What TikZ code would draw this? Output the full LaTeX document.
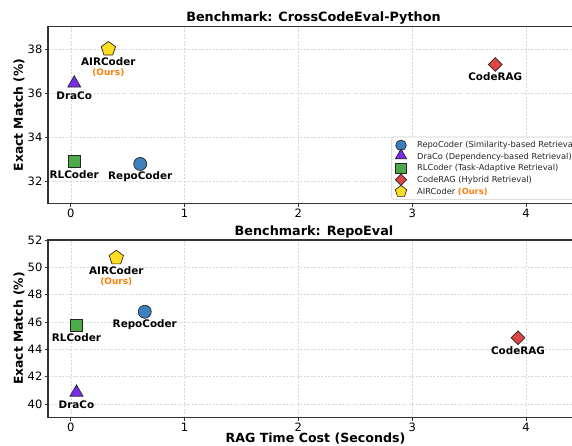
\documentclass[tikz,border=0pt]{standalone}
\usepackage{fontspec}
\setmainfont{DejaVu Sans}
\usetikzlibrary{shapes.geometric}
\definecolor{cRepo}{HTML}{3C80BF}
\definecolor{cDraco}{HTML}{7B2BEE}
\definecolor{cRL}{HTML}{4CAA48}
\definecolor{cRAG}{HTML}{DD4444}
\definecolor{cAIR}{HTML}{FFDD22}
\definecolor{cOurs}{HTML}{FF7F0E}
\definecolor{cFrame}{HTML}{333333}
\definecolor{cGrid}{HTML}{D8D8D8}
\tikzset{
  frame/.style={draw=cFrame,line width=1.1pt},
  gridline/.style={draw=cGrid,dashed,line width=0.5pt,dash pattern=on 2pt off 1.5pt},
  tickmark/.style={draw=cFrame,line width=0.7pt},
  ticklab/.style={font=\fontsize{11.5}{12}\selectfont,inner sep=0pt},
  axlab/.style={font=\fontsize{12.3}{13}\selectfont\bfseries,inner sep=0pt},
  titlelab/.style={font=\fontsize{12.8}{13}\selectfont\bfseries,inner sep=0pt},
  ptlab/.style={font=\fontsize{10.4}{11}\selectfont\bfseries,inner sep=0pt},
  ourslab/.style={font=\fontsize{9}{10}\selectfont\bfseries,text=cOurs,inner sep=0pt},
  mk/.style={draw=black!85,line width=0.7pt,inner sep=0pt},
  mrepo/.style={mk,circle,fill=cRepo,minimum size=13pt},
  mdraco/.style={mk,regular polygon,regular polygon sides=3,fill=cDraco,minimum size=15pt},
  mrl/.style={mk,rectangle,fill=cRL,minimum size=12pt},
  mrag/.style={mk,diamond,fill=cRAG,minimum size=14pt},
  mair/.style={mk,regular polygon,regular polygon sides=5,fill=cAIR,minimum size=15pt},
  legtext/.style={font=\fontsize{8.3}{9}\selectfont,text=black!85,inner sep=0pt,anchor=west},
}
\begin{document}
\begin{tikzpicture}[x=1pt,y=1pt]
\useasboundingbox (0,0) rectangle (572,445);
\fill[white] (0,0) rectangle (572,445);

% ---------------- top panel ----------------
\begin{scope}[x=113.8pt,y=22.1pt,shift={(70.8pt,-443.8pt)}]
  \foreach \xx in {0,1,2,3,4} \draw[gridline] (\xx,31) -- (\xx,39);
  \foreach \yy in {32,34,36,38} \draw[gridline] (-0.2,\yy) -- (4.5,\yy);
  \foreach \xx in {0,1,2,3,4} {
    \draw[tickmark] (\xx,31) -- ++(0,-3.5pt);
    \node[ticklab,anchor=north] (tx\xx) at ([yshift=-5pt]\xx,31) {\xx};
  }
  \foreach \yy in {32,34,36,38} {
    \draw[tickmark] (-0.2,\yy) -- ++(-3.5pt,0);
    \node[ticklab,anchor=east] (ty\yy) at ([xshift=-5.5pt]-0.2,\yy) {\yy};
  }
  \draw[frame] (-0.2,31) rectangle (4.5,39);
  % points
  \node[mrepo] (repoA) at (0.61,32.8) {};
  \node[mdraco] (dracoA) at (0.03,36.45) {};
  \node[mrl] (rlA) at (0.03,32.9) {};
  \node[mrag] (ragA) at (3.73,37.3) {};
  \node[mair] (airA) at (0.33,38.0) {};
  \node[ptlab] (repoAl) at ([yshift=-12.5pt]repoA.center) {RepoCoder};
  \node[ptlab] (dracoAl) at ([yshift=-12pt]dracoA.center) {DraCo};
  \node[ptlab] (rlAl) at ([yshift=-12.5pt]rlA.center) {RLCoder};
  \node[ptlab] (ragAl) at ([yshift=-12.5pt]ragA.center) {CodeRAG};
  \node[ptlab] (airAl) at ([yshift=-13pt]airA.center) {AIRCoder};
  \node[ourslab] (airAo) at ([yshift=-23.7pt]airA.center) {(Ours)};
\end{scope}
\node[titlelab] (titleA) at (313.5,427) {Benchmark: CrossCodeEval-Python};
\node[axlab,rotate=90] (ylabA) at (19,330) {Exact Match (\%)};

% legend
\draw[draw=black!20,fill=white,rounded corners=2pt,line width=0.6pt] (391.7,308) rectangle (600,245.7);
\node[mrepo,minimum size=10.5pt] (lg1) at (401,299.7) {};
\node[mdraco,minimum size=13pt] (lg2) at (401,289.4) {};
\node[mrl,minimum size=10.5pt] (lg3) at (401,276.7) {};
\node[mrag,minimum size=11.5pt] (lg4) at (401,265.2) {};
\node[mair,minimum size=12pt] (lg5) at (401,253.5) {};
\node[legtext] (lt1) at (417,299.7) {RepoCoder (Similarity-based Retrieval)};
\node[legtext] (lt2) at (417,288.2) {DraCo (Dependency-based Retrieval)};
\node[legtext] (lt3) at (417,276.7) {RLCoder (Task-Adaptive Retrieval)};
\node[legtext] (lt4) at (417,265.2) {CodeRAG (Hybrid Retrieval)};
\node[legtext] (lt5) at (417,253.5) {AIRCoder \textbf{\textcolor{cOurs}{(Ours)}}};

% ---------------- bottom panel ----------------
\begin{scope}[x=113.8pt,y=13.667pt,shift={(70.8pt,-505.7pt)}]
  \foreach \xx in {0,1,2,3,4} \draw[gridline] (\xx,39) -- (\xx,52);
  \foreach \yy in {40,42,44,46,48,50} \draw[gridline] (-0.2,\yy) -- (4.5,\yy);
  \foreach \xx in {0,1,2,3,4} {
    \draw[tickmark] (\xx,39) -- ++(0,-3.5pt);
    \node[ticklab,anchor=north] (bx\xx) at ([yshift=-5pt]\xx,39) {\xx};
  }
  \foreach \yy in {40,42,44,46,48,50,52} {
    \draw[tickmark] (-0.2,\yy) -- ++(-3.5pt,0);
    \node[ticklab,anchor=east] (by\yy) at ([xshift=-5.5pt]-0.2,\yy) {\yy};
  }
  \draw[frame] (-0.2,39) rectangle (4.5,52);
  \node[mrepo] (repoB) at (0.65,46.75) {};
  \node[mdraco] (dracoB) at (0.05,40.85) {};
  \node[mrl] (rlB) at (0.05,45.75) {};
  \node[mrag] (ragB) at (3.93,44.85) {};
  \node[mair] (airB) at (0.40,50.7) {};
  \node[ptlab] (repoBl) at ([yshift=-12.5pt]repoB.center) {RepoCoder};
  \node[ptlab] (dracoBl) at ([yshift=-12pt]dracoB.center) {DraCo};
  \node[ptlab] (rlBl) at ([yshift=-12.5pt]rlB.center) {RLCoder};
  \node[ptlab] (ragBl) at ([yshift=-12.5pt]ragB.center) {CodeRAG};
  \node[ptlab] (airBl) at ([yshift=-13pt]airB.center) {AIRCoder};
  \node[ourslab] (airBo) at ([yshift=-24pt]airB.center) {(Ours)};
\end{scope}
\node[titlelab] (titleB) at (314,212.7) {Benchmark: RepoEval};
\node[axlab,rotate=90] (ylabB) at (19,116.5) {Exact Match (\%)};
\node[axlab,font=\fontsize{12.6}{13}\selectfont\bfseries] (xlab) at (315.5,6) {RAG Time Cost (Seconds)};
\end{tikzpicture}
\end{document}
